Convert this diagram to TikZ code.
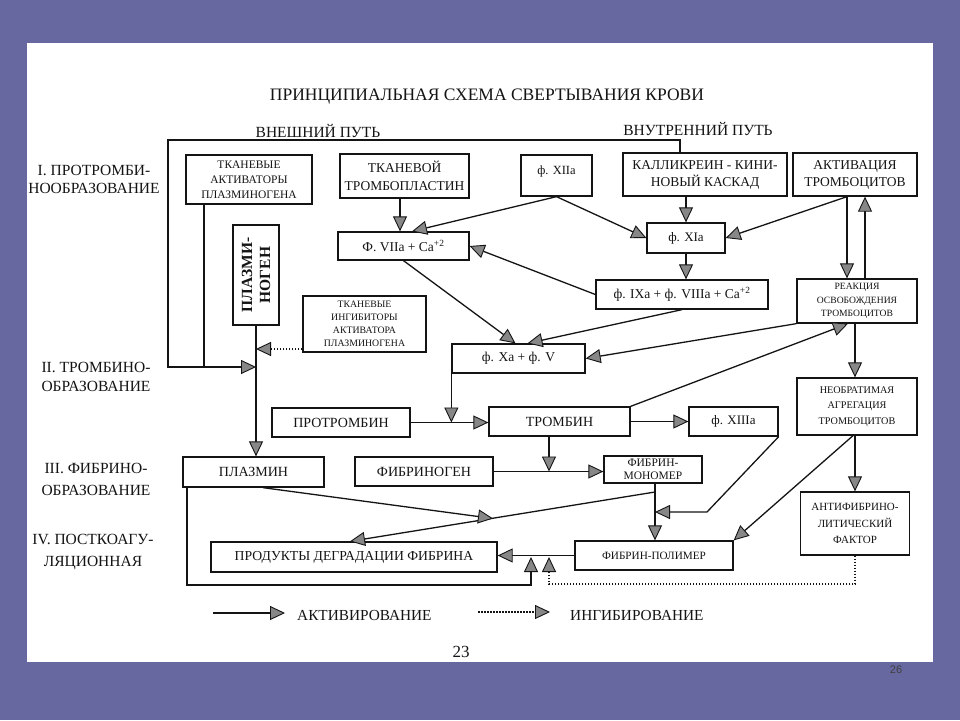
\documentclass[tikz,border=0pt]{standalone}
\usepackage{fontspec}
\setmainfont{Liberation Serif}
\newfontfamily\pgnumfont{Liberation Sans}
\usetikzlibrary{arrows.meta}
\definecolor{slidebg}{RGB}{104,104,160}
\definecolor{tipgray}{RGB}{135,135,135}
\definecolor{inkc}{RGB}{20,20,20}
\newcommand\myfs[2]{\fontsize{#1}{#2}\selectfont}
\begin{document}
\begin{tikzpicture}[x=1pt,y=-1pt,
  bx/.style={draw=inkc, line width=1.3pt, inner sep=1pt, align=center, text=inkc},
  act/.style={draw=inkc, line width=1.3pt, -{Triangle[length=15pt,width=14pt,fill=tipgray,line width=0.9pt]}},
  inh/.style={act, dash pattern=on 1.5pt off 1.5pt},
  lbl/.style={align=center, text=inkc, inner sep=0pt}
]
\fill[slidebg] (0,0) rectangle (960,720);
\fill[white] (27,43) rectangle (933,662);
\useasboundingbox (0,0) rectangle (960,720);

% titles and side labels
\node[lbl, font=\myfs{17.5}{20}] (title) at (487,97) {ПРИНЦИПИАЛЬНАЯ СХЕМА СВЕРТЫВАНИЯ КРОВИ};
\node[lbl, font=\myfs{15.5}{17}] (ext) at (318,131) {ВНЕШНИЙ ПУТЬ};
\node[lbl, font=\myfs{15.5}{17}] (int) at (698,129) {ВНУТРЕННИЙ ПУТЬ};
\node[lbl, font=\myfs{15.5}{18}] (st1) at (94,179) {I. ПРОТРОМБИ-\\НООБРАЗОВАНИЕ};
\node[lbl, font=\myfs{15.5}{19}] (st2) at (96,377) {II. ТРОМБИНО-\\ОБРАЗОВАНИЕ};
\node[lbl, font=\myfs{15.5}{22}] (st3) at (96,479) {III. ФИБРИНО-\\ОБРАЗОВАНИЕ};
\node[lbl, font=\myfs{15.5}{22}] (st4) at (93,552) {IV. ПОСТКОАГУ-\\ЛЯЦИОННАЯ};

% boxes
\node[bx, minimum width=126, minimum height=49, font=\myfs{11.5}{15}] (tap) at (249,179.5) {ТКАНЕВЫЕ\\АКТИВАТОРЫ\\ПЛАЗМИНОГЕНА};
\node[bx, minimum width=129, minimum height=44, font=\myfs{13.5}{18}] (ttp) at (404.5,176) {ТКАНЕВОЙ\\ТРОМБОПЛАСТИН};
\node[bx, minimum width=71, minimum height=41, text height=9pt, text depth=12pt, font=\myfs{12.5}{14}] (f12) at (556.5,175.5) {ф. XIIa};
\node[bx, minimum width=164, minimum height=43, font=\myfs{13.5}{17}] (kk) at (705,174.5) {КАЛЛИКРЕИН - КИНИ-\\НОВЫЙ КАСКАД};
\node[bx, minimum width=124, minimum height=43, font=\myfs{13.5}{17}] (akt) at (855,174.5) {АКТИВАЦИЯ\\ТРОМБОЦИТОВ};
\node[bx, rotate=90, minimum width=100, minimum height=46, font=\bfseries\myfs{15.5}{18}] (plg) at (256,275) {ПЛАЗМИ-\\НОГЕН};
\node[bx, minimum width=131, minimum height=28, font=\myfs{13.5}{15}] (f7) at (403.5,246) {Ф. VIIa + Ca\textsuperscript{+2}};
\node[bx, minimum width=78, minimum height=30, font=\myfs{13}{14}] (f11) at (686,238) {ф. XIa};
\node[bx, minimum width=123, minimum height=56, font=\myfs{9.8}{13}] (tip) at (364.5,324) {ТКАНЕВЫЕ\\ИНГИБИТОРЫ\\АКТИВАТОРА\\ПЛАЗМИНОГЕНА};
\node[bx, minimum width=172, minimum height=29, font=\myfs{13.5}{15}] (f9) at (682,294.5) {ф. IXa + ф. VIIIa + Ca\textsuperscript{+2}};
\node[bx, minimum width=120, minimum height=44, font=\myfs{9.6}{13.5}] (reak) at (857,301) {РЕАКЦИЯ\\ОСВОБОЖДЕНИЯ\\ТРОМБОЦИТОВ};
\node[bx, minimum width=133, minimum height=29, font=\myfs{13.5}{15}] (f10) at (518.5,358.5) {ф. Xa + ф. V};
\node[bx, minimum width=138, minimum height=29, font=\myfs{14}{15}] (ptr) at (341,422.5) {ПРОТРОМБИН};
\node[bx, minimum width=141, minimum height=29, font=\myfs{14}{15}] (trb) at (559.5,421.5) {ТРОМБИН};
\node[bx, minimum width=89, minimum height=29, font=\myfs{13}{14}] (f13) at (733.5,421.5) {ф. XIIIa};
\node[bx, minimum width=120, minimum height=57, font=\myfs{10.2}{15.5}] (neob) at (857,406.5) {НЕОБРАТИМАЯ\\АГРЕГАЦИЯ\\ТРОМБОЦИТОВ};
\node[bx, minimum width=141, minimum height=30, font=\myfs{14}{15}] (plm) at (253.5,472) {ПЛАЗМИН};
\node[bx, minimum width=138, minimum height=29, font=\myfs{14}{15}] (fbg) at (424,471.5) {ФИБРИНОГЕН};
\node[bx, minimum width=98, minimum height=27, font=\myfs{11.5}{13.5}] (mono) at (653,469.5) {ФИБРИН-\\МОНОМЕР};
\node[bx, minimum width=109, minimum height=63, font=\myfs{11}{16.5}] (anti) at (855,523.5) {АНТИФИБРИНО-\\ЛИТИЧЕСКИЙ\\ФАКТОР};
\node[bx, minimum width=158, minimum height=29, font=\myfs{11.2}{13}] (poly) at (654,555.5) {ФИБРИН-ПОЛИМЕР};
\node[bx, minimum width=286, minimum height=30, font=\myfs{13.7}{15}] (pdf) at (354,557) {ПРОДУКТЫ ДЕГРАДАЦИИ ФИБРИНА};

% junction coordinates
\coordinate (jA) at (256,349);
\coordinate (jB) at (256,367);
\coordinate (cTL) at (168,140);
\coordinate (cX1) at (680,0);
\coordinate (cX2) at (204,0);
\coordinate (cX3) at (400,0);
\coordinate (cX4) at (412,0);
\coordinate (cX5) at (847,0);
\coordinate (cX6) at (865,0);
\coordinate (cX7) at (549,0);
\coordinate (cX8) at (855,0);
\coordinate (cX9) at (655,0);
\coordinate (k1) at (707,512);
\coordinate (k2) at (655,512);
\coordinate (k3) at (655,492);
\coordinate (k4) at (493,518.5);
\coordinate (k5) at (531,585);
\coordinate (k6) at (549,584);

% connectors
\draw[act] (kk.north -| cX1) |- (cTL) |- (jB);
\draw[draw=inkc, line width=1.3pt] (tap.south -| cX2) -- (jB -| cX2);
\draw[act] (plg.west) -- (plg.west |- plm.north);
\draw[inh] (tip.west |- jA) -- (jA);
\draw[act] (ttp.south -| cX3) -- (f7.north -| cX3);
\draw[act] (f12.south) -- (f7.north -| cX4);
\draw[act] (f12.south) -- (f11.west);
\draw[act] (kk.south -| f11.north) -- (f11.north);
\draw[act] (akt.south -| cX5) -- (f11.east);
\draw[act] (akt.south -| cX5) -- (reak.north -| cX5);
\draw[act] (reak.north -| cX6) -- (akt.south -| cX6);
\draw[act] (f11.south) -- (f11.south |- f9.north);
\draw[act] (f9.west) -- (f7.east);
\draw[act] (f7.south) -- ([xshift=-3pt]f10.north);
\draw[act] (f9.south) -- ([xshift=9pt]f10.north);
\draw[act] (reak.south west) -- (f10.east);
\draw[act] (f10.south west) -- (f10.south west |- ptr.east);
\draw[act] (ptr.east) -- (trb.west |- ptr.east);
\draw[act] (trb.north east) -- ([xshift=-9pt]reak.south);
\draw[act] (trb.east) -- (f13.west);
\draw[act] (trb.south -| cX7) -- (fbg.east -| cX7);
\draw[act] (fbg.east) -- (mono.west |- fbg.east);
\draw[act] (reak.south -| cX8) -- (neob.north -| cX8);
\draw[act] (neob.south -| cX8) -- (anti.north);
\draw[act] ([xshift=-4pt]neob.south) -- (poly.north east);
\draw[act] (mono.south -| cX9) -- (poly.north -| cX9);
\draw[act] (f13.south east) -- (k1) -- (k2);
\draw[act] (k3) -- ([xshift=-4pt]pdf.north);
\draw[act] ([xshift=9.5pt]plm.south) -- (k4);
\draw[act] (poly.west) -- (pdf.east |- poly.west);
\draw[act] ([xshift=-66.5pt]plm.south) |- (k5) -- (k5 |- pdf.east);
\draw[inh] (anti.south) |- (k6) -- (k6 |- pdf.east);

% legend
\coordinate (l1) at (213,613);
\coordinate (l2) at (285,613);
\coordinate (l3) at (478,612);
\coordinate (l4) at (550,612);
\draw[act] (l1) -- (l2);
\draw[inh] (l3) -- (l4);
\node[lbl, anchor=west, font=\myfs{15.3}{17}] (lact) at (297,615) {АКТИВИРОВАНИЕ};
\node[lbl, anchor=west, font=\myfs{15.3}{17}] (linh) at (570,615) {ИНГИБИРОВАНИЕ};

\node[lbl, font=\myfs{17}{19}] (pg) at (461,652) {23};
\node[lbl, font=\pgnumfont\myfs{11}{13}, text=black!75] (sl) at (896,670) {26};
\end{tikzpicture}
\end{document}
